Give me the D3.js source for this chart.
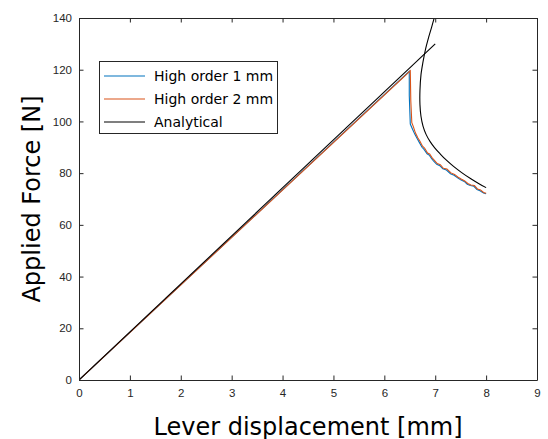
<!DOCTYPE html>
<html>
<head>
<meta charset="utf-8">
<script src="https://cdn.jsdelivr.net/npm/d3@7"></script>
<style>
  body { margin: 0; background: #fff; }
  svg { display: block; }
</style>
</head>
<body>
<svg width="548" height="439"></svg>
<script>
var svg = d3.select("svg");

// data
var xTicks = [0, 1, 2, 3, 4, 5, 6, 7, 8, 9];
var yTicks = [0, 20, 40, 60, 80, 100, 120, 140];

var hi1X = [0, 6.49, 6.49, 6.51, 6.55, 6.60, 6.65, 6.69, 6.74, 6.78, 6.84, 6.88, 6.93, 6.97, 7.03, 7.09, 7.15, 7.22, 7.30, 7.37, 7.44, 7.50, 7.57, 7.63, 7.69, 7.76, 7.82, 7.88, 7.95, 8.0];
var hi1Y = [0, 119.4, 110, 99.0, 97.2, 95.0, 93.2, 91.8, 90.0, 89.2, 87.5, 87.0, 85.6, 84.6, 83.4, 82.9, 81.7, 81.2, 79.8, 79.2, 78.2, 77.4, 76.8, 75.7, 75.2, 74.9, 73.7, 73.2, 72.3, 72.0];

var hi2X = [0, 6.51, 6.52, 6.54, 6.57, 6.61, 6.66, 6.70, 6.75, 6.79, 6.85, 6.89, 6.94, 6.98, 7.04, 7.10, 7.16, 7.23, 7.31, 7.38, 7.45, 7.51, 7.58, 7.64, 7.70, 7.77, 7.83, 7.89, 7.95, 8.0];
var hi2Y = [0, 119.6, 108, 99.5, 98.0, 95.6, 93.6, 92.3, 90.4, 89.7, 87.8, 87.4, 85.9, 85.0, 83.7, 83.3, 81.9, 81.6, 80.1, 79.5, 78.4, 77.7, 77.0, 76.0, 75.4, 75.2, 73.9, 73.5, 72.5, 72.2];

var anLineX = [0, 7.0];
var anLineY = [0, 130];

var anCurveX = [6.98, 6.93, 6.87, 6.81, 6.76, 6.72, 6.70, 6.70, 6.72, 6.76, 6.82, 6.90, 6.99, 7.10, 7.22, 7.36, 7.52, 7.70, 7.86, 8.0];
var anCurveY = [140, 136.5, 132.5, 128, 123, 118, 112, 106.5, 102, 98.2, 95, 92.2, 89.8, 87.4, 85.0, 82.6, 80.2, 77.8, 75.9, 74.4];

var legendNames = ["High order 1 mm", "High order 2 mm", "Analytical"];
var legendColors = ["#0072BD", "#D95319", "#000000"];

var pLeft = 79, pRight = 537, pTop = 18, pBottom = 380;
var axisColor = "#262626";

var x = d3.scaleLinear().domain([0, 9]).range([pLeft, pRight]);
var y = d3.scaleLinear().domain([0, 140]).range([pBottom, pTop]);

svg.append("clipPath").attr("id", "clip")
  .append("rect").attr("x", pLeft).attr("y", pTop).attr("width", pRight - pLeft).attr("height", pBottom - pTop);

var line = d3.line().x(d => x(d[0])).y(d => y(d[1]));
function pairs(xs, ys) { return xs.map((v, i) => [v, ys[i]]); }

var plot = svg.append("g").attr("clip-path", "url(#clip)");

plot.append("path").attr("d", line(pairs(hi1X, hi1Y)))
  .attr("fill", "none").attr("stroke", legendColors[0]).attr("stroke-width", 1.1);
plot.append("path").attr("d", line(pairs(hi2X, hi2Y)))
  .attr("fill", "none").attr("stroke", legendColors[1]).attr("stroke-width", 1.1);
plot.append("path").attr("d", line(pairs(anLineX, anLineY)))
  .attr("fill", "none").attr("stroke", "#000").attr("stroke-width", 1.1);
plot.append("path").attr("d", d3.line().curve(d3.curveCatmullRom).x(d => x(d[0])).y(d => y(d[1]))(pairs(anCurveX, anCurveY)))
  .attr("fill", "none").attr("stroke", "#000").attr("stroke-width", 1.1);

// axes (box on, ticks inward)
var tl = 4.5;
var axBottom = svg.append("g").attr("transform", "translate(0," + pBottom + ")")
  .call(d3.axisBottom(x).tickValues(xTicks).tickSizeInner(-tl).tickSizeOuter(0).tickPadding(9));
var axTop = svg.append("g").attr("transform", "translate(0," + pTop + ")")
  .call(d3.axisTop(x).tickValues(xTicks).tickSizeInner(-tl).tickSizeOuter(0).tickFormat(""));
var axLeft = svg.append("g").attr("transform", "translate(" + pLeft + ",0)")
  .call(d3.axisLeft(y).tickValues(yTicks).tickSizeInner(-tl).tickSizeOuter(0).tickPadding(7));
var axRight = svg.append("g").attr("transform", "translate(" + pRight + ",0)")
  .call(d3.axisRight(y).tickValues(yTicks).tickSizeInner(-tl).tickSizeOuter(0).tickFormat(""));

[axBottom, axTop, axLeft, axRight].forEach(function(g) {
  g.select(".domain").attr("stroke", axisColor);
  g.selectAll(".tick line").attr("stroke", axisColor);
  g.selectAll("text").attr("fill", axisColor)
    .style("font-family", "'Liberation Sans', Arial, sans-serif").style("font-size", "11.5px");
});

// axis labels
svg.append("text")
  .attr("x", (pLeft + pRight) / 2).attr("y", 435)
  .attr("text-anchor", "middle")
  .style("font-family", "'DejaVu Sans', Verdana, sans-serif").style("font-size", "24px")
  .attr("fill", "#000")
  .text("Lever displacement [mm]");

svg.append("text")
  .attr("transform", "translate(40," + (pTop + pBottom) / 2 + ") rotate(-90)")
  .attr("text-anchor", "middle")
  .style("font-family", "'DejaVu Sans', Verdana, sans-serif").style("font-size", "24px")
  .attr("fill", "#000")
  .text("Applied Force [N]");

// legend
var lg = svg.append("g");
lg.append("rect").attr("x", 99.5).attr("y", 61.5).attr("width", 178).attr("height", 72)
  .attr("fill", "#fff").attr("stroke", axisColor).attr("stroke-width", 1);
legendNames.forEach(function(name, i) {
  var yy = 76 + i * 23;
  lg.append("line").attr("x1", 104).attr("x2", 145).attr("y1", yy).attr("y2", yy)
    .attr("stroke", legendColors[i]).attr("stroke-width", 1.1);
  lg.append("text").attr("x", 154).attr("y", yy + 5)
    .style("font-family", "'DejaVu Sans', Verdana, sans-serif").style("font-size", "14px")
    .attr("fill", "#000").text(name);
});
</script>
</body>
</html>
